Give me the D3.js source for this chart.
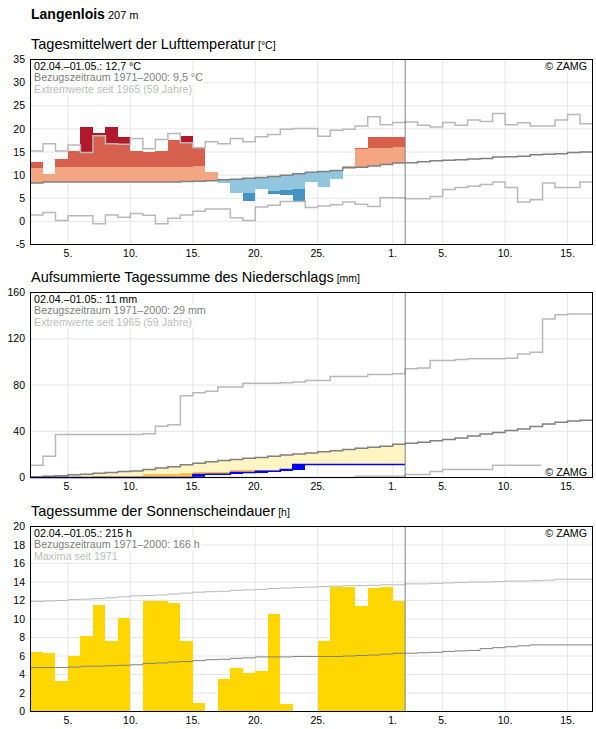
<!DOCTYPE html>
<html>
<head>
<meta charset="utf-8">
<script src="https://cdn.jsdelivr.net/npm/d3@7"></script>
<style>
  body { margin: 0; background: #fff; }
  svg { display: block; font-family: Arial, "Liberation Sans", sans-serif; }
</style>
</head>
<body>
<svg id="chart" width="596" height="729"></svg>
<script>
// shown days: 02.04.2024 .. 16.05.2024, measured period 02.04. - 01.05.
var days = d3.utcDay.range(new Date(Date.UTC(2024, 3, 2)), new Date(Date.UTC(2024, 4, 17)));
var tickDates = [[3,5],[3,10],[3,15],[3,20],[3,25],[4,1],[4,5],[4,10],[4,15]];

// temperature (deg C), 30 measured days
var tempObs = [12.9, 10.2, 13.5, 15.3, 20.5, 19.2, 20.3, 18.3, 15.2, 15.1,
               15.3, 17.6, 18.4, 15.8, 10.6, 8.3, 6.1, 4.5, 7.1, 5.9,
               5.6, 4.4, 8.5, 7.4, 9.1, 11.9, 15.8, 18.3, 18.3, 18.3];
// upper / lower band limits around the mean
var tempHi = [11.6, 11.8, 11.8, 11.8, 11.8, 11.8, 11.8, 11.8, 11.8, 11.8,
              11.8, 11.8, 11.8, 11.9, 12.0, 12.2, 12.4, 12.6, 12.9, 13.2,
              13.5, 13.8, 14.1, 14.4, 14.7, 15.2, 15.7, 15.9, 15.9, 16.1];
var tempLo = [5.2, 5.3, 5.3, 5.3, 5.3, 5.3, 5.3, 5.3, 5.3, 5.3,
              5.3, 5.4, 5.5, 5.6, 5.7, 5.9, 6.0, 6.1, 6.3, 6.5,
              6.7, 6.9, 7.1, 7.2, 7.5, 7.9, 8.1, 8.3, 8.5, 8.7];
// 45 days: climate mean 1971-2000 and extremes since 1965
var tempMean = [8.3, 8.5, 8.5, 8.5, 8.5, 8.5, 8.5, 8.5, 8.5, 8.5,
                8.5, 8.5, 8.6, 8.7, 8.8, 9.0, 9.1, 9.3, 9.5, 9.7,
                10.0, 10.3, 10.6, 10.8, 11.0, 11.6, 11.7, 12.0, 12.3, 12.6,
                12.7, 12.9, 13.1, 13.2, 13.3, 13.5, 13.6, 13.9, 14.0, 14.1,
                14.4, 14.5, 14.6, 14.9, 15.0];
var tempMax = [15.2, 16.8, 15.2, 16.5, 14.9, 18.5, 16.8, 16.7, 17.9, 15.7,
               17.7, 19.0, 17.0, 15.9, 17.2, 16.8, 17.9, 17.2, 18.3, 18.8,
               19.9, 20.1, 20.1, 18.4, 19.7, 19.9, 20.6, 22.6, 20.9, 21.4,
               21.5, 20.8, 20.4, 21.4, 20.8, 21.9, 21.6, 23.3, 20.9, 21.3,
               20.6, 20.6, 21.9, 23.1, 21.1];
var tempMin = [1.4, 1.9, 0.2, 1.2, 1.2, -0.5, 1.4, 0.9, 1.7, 1.3,
               -0.5, 0.7, 1.4, 2.2, 2.7, 2.7, 0.8, 0.2, 3.1, 3.5,
               4.3, 4.3, 3.0, 3.3, 3.6, 4.2, 3.7, 3.2, 5.1, 5.1,
               4.9, 4.9, 5.4, 6.9, 7.3, 7.6, 8.0, 8.5, 7.3, 4.2,
               4.7, 8.3, 7.3, 7.3, 8.5];

// precipitation (mm)
var precipDaily = [0, 0, 0, 0, 0, 0, 0, 0, 0, 0,
                   0, 0, 0, 2.6, 0.2, 0, 1.5, 0, 1.1, 0,
                   1.5, 4.4, 0, 0, 0, 0, 0, 0, 0, 0];
var precipLo = [0, 0, 0, 0, 0, 1.4, 1.4, 1.4, 1.4, 2.8,
                2.8, 2.8, 4.2, 4.9, 4.9, 5.0, 6.3, 6.3, 6.9, 6.9,
                7.7, 8.5, 11.8, 11.8, 11.9, 11.9, 12.0, 12.0, 12.1, 12.1];
var precipMean = [0.5, 1.1, 1.6, 2.4, 2.9, 3.7, 4.3, 5.2, 5.7, 6.9,
                  8.3, 9.3, 11.0, 12.4, 13.6, 14.6, 15.6, 16.6, 17.4, 18.3,
                  19.4, 20.3, 21.2, 22.3, 23.1, 24.3, 25.3, 26.2, 27.1, 28.8,
                  29.6, 30.5, 31.8, 32.8, 34.2, 36.0, 37.6, 39.0, 40.6, 42.0,
                  44.2, 46.3, 47.8, 48.9, 49.5];
var precipMax = [10.6, 18.4, 37.1, 37.1, 37.1, 37.1, 37.1, 37.1, 37.1, 37.9,
                 44.3, 45.7, 70.7, 73.3, 74.7, 78.2, 78.2, 81.6, 81.6, 81.6,
                 81.9, 82.5, 83.9, 83.9, 87.4, 87.4, 87.4, 89.1, 89.1, 89.7,
                 94.0, 94.8, 101.1, 101.1, 102.0, 102.6, 102.6, 102.6, 103.2, 106.9,
                 108.3, 137.1, 140.8, 141.4, 141.4];
var precipMin = [0, 0, 0, 0, 0, 0, 0, 0, 0, 0,
                 0, 0, 0, 0, 0, 0, 0, 0, 0, 0,
                 0, 0, 0, 0, 0, 0, 1.0, 1.0, 1.0, 1.0,
                 2.6, 2.6, 5.2, 6.9, 6.9, 6.9, 6.9, 10.6, 10.6, 10.6,
                 10.6, 10.6, 10.6, 10.6, 10.6];

// sunshine (h)
var sunObs = [6.4, 6.3, 3.3, 6.0, 8.2, 11.5, 7.6, 10.1, 0.1, 12.0,
              11.9, 11.7, 7.6, 0.9, 0, 3.5, 4.7, 4.2, 4.4, 10.5,
              0.8, 0, 0, 7.6, 13.5, 13.5, 11.4, 13.4, 13.45, 11.9];
var sunMean = [4.75, 4.75, 4.75, 4.8, 4.9, 4.9, 4.95, 5.0, 5.05, 5.2,
               5.25, 5.35, 5.4, 5.5, 5.6, 5.65, 5.75, 5.8, 5.9, 5.9,
               5.9, 5.95, 5.95, 5.95, 5.95, 6.0, 6.05, 6.1, 6.2, 6.3,
               6.3, 6.35, 6.4, 6.5, 6.55, 6.6, 6.8, 6.9, 7.0, 7.1,
               7.2, 7.2, 7.2, 7.2, 7.2];
var sunMax = [11.9, 11.95, 12.0, 12.1, 12.15, 12.2, 12.3, 12.4, 12.5, 12.55,
              12.6, 12.7, 12.8, 12.9, 12.95, 13.0, 13.1, 13.15, 13.2, 13.3,
              13.35, 13.4, 13.45, 13.5, 13.55, 13.6, 13.6, 13.65, 13.7, 13.7,
              13.8, 13.8, 13.85, 13.9, 13.95, 14.0, 14.0, 14.05, 14.1, 14.1,
              14.15, 14.2, 14.3, 14.3, 14.3];

var tempLegend = ["02.04.\u201301.05.: 12,7 \u00b0C", "Bezugszeitraum 1971\u20132000: 9,5 \u00b0C", "Extremwerte seit 1965 (59 Jahre)"];
var precipLegend = ["02.04.\u201301.05.: 11 mm", "Bezugszeitraum 1971\u20132000: 29 mm", "Extremwerte seit 1965 (59 Jahre)"];
var sunLegend = ["02.04.\u201301.05.: 215 h", "Bezugszeitraum 1971\u20132000: 166 h", "Maxima seit 1971"];

var warmCol = ["#f4a582", "#d6604d", "#b2182b"];
var coldCol = ["#92c5de", "#4393c3", "#2166ac"];

var left = 30.5, right = 592.5, ph = 185;
var tops = [59.5, 292.5, 526.5];

var svg = d3.select("#chart");
var x = d3.scaleUtc()
    .domain([days[0], d3.utcDay.offset(days[days.length - 1], 1)])
    .range([left, right]);
var dayEnd = function(d) { return d3.utcDay.offset(d, 1); };
var obsDays = days.slice(0, 30);
var fmt = d3.utcFormat("%-d.");

svg.append("text").attr("x", 31).attr("y", 18.5)
    .style("font-size", "14px").style("font-weight", "bold").text("Langenlois")
  .append("tspan").style("font-size", "11px").style("font-weight", "normal").text(" 207 m");

function panel(top, title, unit, yDomain, yTicks){
  var y = d3.scaleLinear().domain(yDomain).range([top + ph, top]);
  var g = svg.append("g");

  svg.append("text").attr("x", 31).attr("y", top - 10.5)
      .style("font-size", "14.5px").text(title)
    .append("tspan").style("font-size", "10.5px").text(" [" + unit + "]");

  g.selectAll(".hgrid").data(yTicks).enter().append("line")
      .attr("x1", left).attr("x2", right)
      .attr("y1", function(d){ return y(d); }).attr("y2", function(d){ return y(d); })
      .attr("stroke", "#e6e6e6").attr("stroke-width", 1);

  var xt = tickDates.map(function(t){ return new Date(Date.UTC(2024, t[0], t[1])); });
  g.selectAll(".vgrid").data(xt).enter().append("line")
      .attr("x1", function(d){ return x(d); }).attr("x2", function(d){ return x(d); })
      .attr("y1", top).attr("y2", top + ph)
      .attr("stroke", "#e6e6e6").attr("stroke-width", 1);

  svg.append("g").selectAll("text").data(yTicks).enter().append("text")
      .attr("x", 25).attr("y", function(d){ return y(d); }).attr("dy", "0.35em")
      .attr("text-anchor", "end").style("font-size", "10.5px").attr("fill", "#000")
      .text(function(d){ return d; });

  svg.append("g").selectAll("text").data(xt).enter().append("text")
      .attr("x", function(d){ return x(d); }).attr("y", top + ph + 12)
      .attr("text-anchor", "middle").style("font-size", "10.5px").attr("fill", "#000")
      .text(fmt);

  return {g: g, y: y, top: top};
}

function stepLine(p, values, color, width){
  var pts = values.map(function(v, i){ return [days[i], v]; });
  pts.push([dayEnd(days[values.length - 1]), values[values.length - 1]]);
  var line = d3.line().curve(d3.curveStepAfter)
      .x(function(d){ return x(d[0]); })
      .y(function(d){ return p.y(d[1]); });
  p.g.append("path").datum(pts)
      .attr("d", line).attr("fill", "none")
      .attr("stroke", color).attr("stroke-width", width);
}

function finish(p, legend, zamgBottom){
  var today = dayEnd(obsDays[obsDays.length - 1]);
  p.g.append("line").attr("x1", x(today)).attr("x2", x(today))
      .attr("y1", p.top).attr("y2", p.top + ph)
      .attr("stroke", "#808080").attr("stroke-width", 1);

  var cols = ["#000", "#808080", "#bdbdbd"];
  legend.forEach(function(s, i){
    var bg = p.g.append("rect").attr("fill", "#fff");
    var t = p.g.append("text").attr("x", 34).attr("y", p.top + 10 + i * 11.7)
        .style("font-size", "10.7px").attr("fill", cols[i]).text(s);
    var b = t.node().getBBox();
    bg.attr("x", b.x - 1).attr("y", b.y).attr("width", b.width + 2).attr("height", b.height);
  });

  var zy = zamgBottom ? p.top + ph - 1.5 : p.top + 10;
  var zbg = p.g.append("rect").attr("fill", "#fff");
  var z = p.g.append("text").attr("x", 587).attr("y", zy).attr("text-anchor", "end")
      .style("font-size", "10.7px").attr("fill", "#000").text("\u00a9 ZAMG");
  var zb = z.node().getBBox();
  zbg.attr("x", zb.x - 4).attr("y", zb.y - 2).attr("width", zb.width + 8).attr("height", zb.height + 3);

  p.g.append("rect").attr("x", left).attr("y", p.top)
      .attr("width", right - left).attr("height", ph)
      .attr("fill", "none").attr("stroke", "#000").attr("stroke-width", 1);
}

// --- temperature
var pT = panel(tops[0], "Tagesmittelwert der Lufttemperatur", "\u00b0C", [-5, 35], d3.range(-5, 36, 5));
var tSegs = [];
obsDays.forEach(function(d, i){
  var v = tempObs[i], m = tempMean[i];
  if (v >= m) {
    tSegs.push({d: d, lo: m, hi: Math.min(v, tempHi[i]), c: warmCol[0]});
    if (v > tempHi[i]) tSegs.push({d: d, lo: tempHi[i], hi: Math.min(v, tempMax[i]), c: warmCol[1]});
    if (v > tempMax[i]) tSegs.push({d: d, lo: tempMax[i], hi: v, c: warmCol[2]});
  } else {
    tSegs.push({d: d, lo: Math.max(v, tempLo[i]), hi: m, c: coldCol[0]});
    if (v < tempLo[i]) tSegs.push({d: d, lo: Math.max(v, tempMin[i]), hi: tempLo[i], c: coldCol[1]});
    if (v < tempMin[i]) tSegs.push({d: d, lo: v, hi: tempMin[i], c: coldCol[2]});
  }
});
pT.g.selectAll(".tbar").data(tSegs).enter().append("rect")
    .attr("x", function(s){ return x(s.d); })
    .attr("width", function(s){ return x(dayEnd(s.d)) - x(s.d); })
    .attr("y", function(s){ return pT.y(s.hi); })
    .attr("height", function(s){ return pT.y(s.lo) - pT.y(s.hi); })
    .attr("fill", function(s){ return s.c; })
    .attr("shape-rendering", "crispEdges");
stepLine(pT, tempMax, "#b9b9b9", 1.5);
stepLine(pT, tempMin, "#b9b9b9", 1.5);
stepLine(pT, tempMean, "#808080", 1.5);
finish(pT, tempLegend, false);

// --- precipitation
var pP = panel(tops[1], "Aufsummierte Tagessumme des Niederschlags", "mm", [0, 160], d3.range(0, 161, 40));
var precipCum = Array.from(d3.cumsum(precipDaily));
var pSegs = [];
obsDays.forEach(function(d, i){
  var c = precipCum[i];
  if (precipLo[i] > c) pSegs.push({d: d, lo: c, hi: precipLo[i], c: "#ffbf4f"});
  var base = Math.max(c, precipLo[i]);
  if (precipMean[i] > base) pSegs.push({d: d, lo: base, hi: precipMean[i], c: "#fff5c2"});
  if (precipDaily[i] > 0) pSegs.push({d: d, lo: c - precipDaily[i], hi: c, c: "#0000ff"});
});
pP.g.selectAll(".pbar").data(pSegs).enter().append("rect")
    .attr("x", function(s){ return x(s.d); })
    .attr("width", function(s){ return x(dayEnd(s.d)) - x(s.d); })
    .attr("y", function(s){ return pP.y(s.hi); })
    .attr("height", function(s){ return pP.y(s.lo) - pP.y(s.hi); })
    .attr("fill", function(s){ return s.c; })
    .attr("shape-rendering", "crispEdges");
stepLine(pP, precipMax, "#b9b9b9", 1.5);
stepLine(pP, precipMin, "#b9b9b9", 1.5);
stepLine(pP, precipMean, "#808080", 1.5);
stepLine(pP, precipCum, "#0000ff", 1.5);
finish(pP, precipLegend, true);

// --- sunshine
var pS = panel(tops[2], "Tagessumme der Sonnenscheindauer", "h", [0, 20], d3.range(0, 21, 2));
pS.g.selectAll(".sbar").data(obsDays).enter().append("rect")
    .attr("x", function(d){ return x(d); })
    .attr("width", function(d){ return x(dayEnd(d)) - x(d); })
    .attr("y", function(d, i){ return pS.y(sunObs[i]); })
    .attr("height", function(d, i){ return pS.y(0) - pS.y(sunObs[i]); })
    .attr("fill", "#ffd700")
    .attr("shape-rendering", "crispEdges");
stepLine(pS, sunMax, "#b9b9b9", 1);
stepLine(pS, sunMean, "#808080", 1);
finish(pS, sunLegend, false);
</script>
</body>
</html>
